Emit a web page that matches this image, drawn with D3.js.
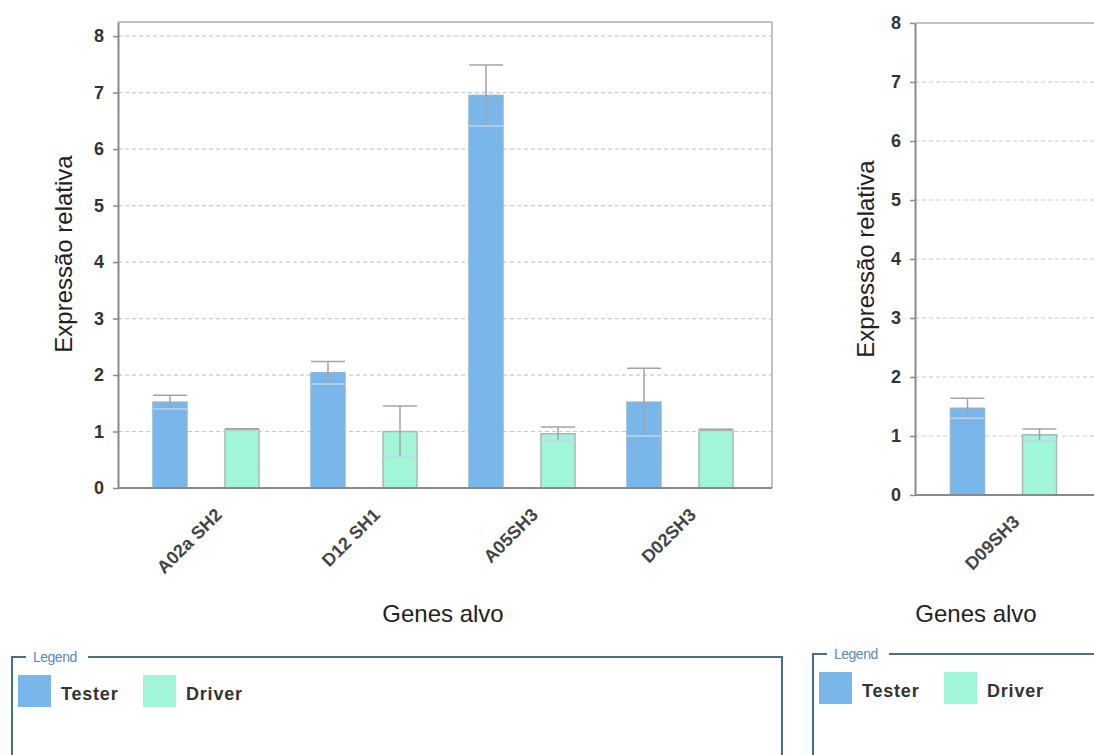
<!DOCTYPE html>
<html>
<head>
<meta charset="utf-8">
<script src="https://cdn.jsdelivr.net/npm/d3@7"></script>
<style>
  body { margin: 0; background: #fff; }
  text { font-family: "Liberation Sans", Arial, sans-serif; }
</style>
</head>
<body>
<svg id="chart" width="1094" height="755"></svg>
<script>
// data
const seriesNames = ["Tester", "Driver"];
const seriesColors = ["#79b7eb", "#a2f6d8"];
const yTicks = [0, 1, 2, 3, 4, 5, 6, 7, 8];

const genesLeft = ["A02a SH2", "D12 SH1", "A05SH3", "D02SH3"];
const testerLeft = [1.52, 2.04, 6.95, 1.52];
const testerErrLeft = [0.12, 0.2, 0.54, 0.6];
const driverLeft = [1.03, 1.0, 0.96, 1.02];
const driverErrLeft = [0.02, 0.45, 0.12, 0.02];

const genesRight = ["D09SH3"];
const testerRight = [1.47];
const testerErrRight = [0.17];
const driverRight = [1.02];
const driverErrRight = [0.1];

const svg = d3.select("#chart");

function drawPanel(p) {
  const g = svg.append("g");

  const y = d3.scaleLinear().domain([0, p.yMax]).range([p.bottom, p.top]);
  const x0 = d3.scaleBand().domain(p.genes).range(p.xRange);
  const x1 = d3.scaleBand().domain(seriesNames).range([-53, 53]).paddingInner(0.528);

  // dashed grid
  g.selectAll(".grid")
    .data(yTicks.filter(t => t > 0 && y(t) > p.top + 2))
    .enter().append("line")
    .attr("x1", p.left).attr("x2", p.right)
    .attr("y1", d => y(d)).attr("y2", d => y(d))
    .attr("stroke", "#c9c9c9")
    .attr("stroke-width", 1.2)
    .attr("stroke-dasharray", "4,3");

  // frame top / right
  g.append("line")
    .attr("x1", p.left).attr("x2", p.right)
    .attr("y1", p.top).attr("y2", p.top)
    .attr("stroke", "#c2c2c2").attr("stroke-width", 2);
  g.append("line")
    .attr("x1", p.right).attr("x2", p.right)
    .attr("y1", p.top).attr("y2", p.bottom)
    .attr("stroke", "#c2c2c2").attr("stroke-width", 2);

  const rows = [];
  p.genes.forEach((gene, i) => {
    rows.push({ gene, s: 0, v: p.tester[i], e: p.testerErr[i] });
    rows.push({ gene, s: 1, v: p.driver[i], e: p.driverErr[i] });
  });
  const bx = d => x0(d.gene) + x0.bandwidth() / 2 + x1(seriesNames[d.s]);

  g.selectAll(".bar")
    .data(rows)
    .enter().append("rect")
    .attr("x", bx)
    .attr("y", d => y(d.v))
    .attr("width", x1.bandwidth())
    .attr("height", d => y(0) - y(d.v))
    .attr("fill", d => seriesColors[d.s])
    .attr("stroke", d => d.s === 0 ? "#8fb4d4" : "#a8b8b0")
    .attr("stroke-width", 1.5);

  // error bars
  const eb = g.selectAll(".err").data(rows).enter().append("g")
    .attr("stroke", "#a3a3a3").attr("stroke-width", 1.5);
  eb.append("line")
    .attr("x1", d => bx(d) + x1.bandwidth() / 2).attr("x2", d => bx(d) + x1.bandwidth() / 2)
    .attr("y1", d => y(d.v - d.e)).attr("y2", d => y(d.v + d.e));
  eb.append("line")
    .attr("x1", d => bx(d)).attr("x2", d => bx(d) + x1.bandwidth())
    .attr("y1", d => y(d.v + d.e)).attr("y2", d => y(d.v + d.e));
  eb.append("line")
    .attr("x1", d => bx(d)).attr("x2", d => bx(d) + x1.bandwidth())
    .attr("y1", d => y(d.v - d.e)).attr("y2", d => y(d.v - d.e))
    .attr("stroke", "#c4d4e4");

  // bottom line
  g.append("line")
    .attr("x1", p.left).attr("x2", p.right)
    .attr("y1", p.bottom).attr("y2", p.bottom)
    .attr("stroke", "#8a8a8a").attr("stroke-width", 2);

  // y axis
  const ya = g.append("g")
    .attr("transform", `translate(${p.left},0)`)
    .call(d3.axisLeft(y).tickValues(yTicks).tickSize(5).tickSizeOuter(0).tickPadding(9));
  ya.select(".domain").attr("stroke", "#8a8a8a").attr("stroke-width", 2);
  ya.selectAll(".tick line").attr("stroke", "#8a8a8a").attr("stroke-width", 1.5);
  ya.selectAll("text")
    .style("font-size", "18px").style("font-weight", "bold").attr("fill", "#333");

  // x axis
  const xa = g.append("g")
    .attr("transform", `translate(0,${p.bottom})`)
    .call(d3.axisBottom(x0).tickSize(0));
  xa.select(".domain").remove();
  xa.selectAll("text")
    .attr("y", 0).attr("dy", 0)
    .attr("text-anchor", "end")
    .attr("transform", "translate(17,28) rotate(-45)")
    .style("font-size", "18px").style("font-weight", "bold").attr("fill", "#444");

  // titles
  g.append("text")
    .attr("transform", `translate(${p.yTitleX},${p.yTitleY}) rotate(-90)`)
    .attr("text-anchor", "middle")
    .style("font-size", "24px").attr("fill", "#222")
    .text("Expressão relativa");
  g.append("text")
    .attr("x", p.xTitleX).attr("y", 622)
    .attr("text-anchor", "middle")
    .style("font-size", "24px").attr("fill", "#222")
    .text("Genes alvo");
}

function drawLegend(l) {
  const g = svg.append("g");
  const bottom = 770;
  g.append("path")
    .attr("d", `M${l.left + 14},${l.top} H${l.left} V${bottom} M${l.left + 76},${l.top} H${l.right} V${bottom}`)
    .attr("fill", "none").attr("stroke", "#4a6d8e").attr("stroke-width", 2);
  g.append("text")
    .attr("x", l.left + 21).attr("y", l.top + 5)
    .style("font-size", "14px").style("letter-spacing", "-0.5px")
    .attr("fill", "#5a86bd")
    .text("Legend");

  const item = g.selectAll(".item").data(seriesNames).enter().append("g")
    .attr("transform", (d, i) => `translate(${l.left + 6 + i * 125},${l.top + 18})`);
  item.append("rect")
    .attr("width", 33).attr("height", 32)
    .attr("fill", (d, i) => seriesColors[i]);
  item.append("text")
    .attr("x", 43).attr("y", 25)
    .style("font-size", "18px").style("font-weight", "bold").style("letter-spacing", "0.8px")
    .attr("fill", "#333")
    .text(d => d);
}

drawPanel({
  genes: genesLeft, tester: testerLeft, testerErr: testerErrLeft,
  driver: driverLeft, driverErr: driverErrLeft,
  left: 118, right: 772, top: 22, bottom: 488, yMax: 8.25,
  xRange: [127, 759], yTitleX: 72, yTitleY: 254, xTitleX: 443
});

drawPanel({
  genes: genesRight, tester: testerRight, testerErr: testerErrRight,
  driver: driverRight, driverErr: driverErrRight,
  left: 915, right: 1200, top: 23, bottom: 495, yMax: 8,
  xRange: [924.5, 1082.5], yTitleX: 874, yTitleY: 259, xTitleX: 976
});

drawLegend({ left: 12, top: 657, right: 782 });
drawLegend({ left: 813, top: 654, right: 1200 });
</script>
</body>
</html>
